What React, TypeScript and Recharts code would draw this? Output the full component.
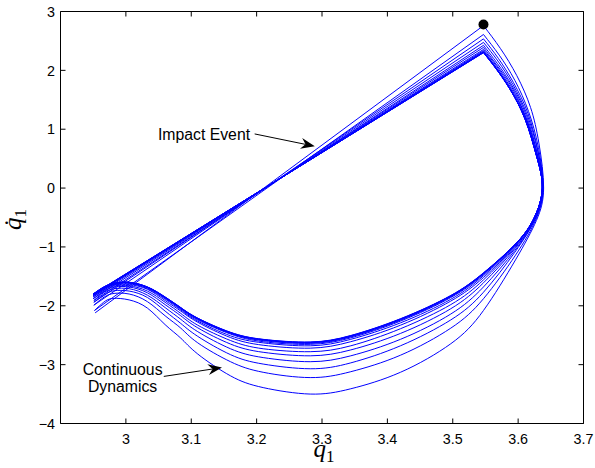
import React from 'react';
import { ComposedChart, Line, XAxis, YAxis, ReferenceDot, ReferenceLine, ReferenceArea } from 'recharts';

type Pt = [number, number];

// Phase-portrait cycles [q1, dq1] (continuous dynamics, corner -> end)
const cycle01: Pt[] = [[3.547,2.76],[3.573,2.37],[3.598,1.91],[3.619,1.37],[3.632,0.75],[3.639,0],[3.628,-0.55],[3.596,-1.22],[3.547,-2.08],[3.497,-2.645],[3.42,-3.13],[3.344,-3.41],[3.282,-3.5],[3.21,-3.39],[3.16,-3.19],[3.11,-2.82],[3.084,-2.55],[3.06,-2.32],[3.033,-2.04],[3.005,-1.9],[2.98,-1.875],[2.966,-1.94],[2.952,-2.08]];
const cycle02: Pt[] = [[3.547,2.61],[3.571,2.26],[3.595,1.83],[3.616,1.3],[3.631,0.69],[3.638,0],[3.627,-0.54],[3.596,-1.14],[3.547,-1.88],[3.497,-2.38],[3.42,-2.84],[3.344,-3.12],[3.282,-3.22],[3.21,-3.13],[3.16,-2.95],[3.11,-2.63],[3.084,-2.38],[3.06,-2.17],[3.033,-1.93],[3.005,-1.8],[2.982,-1.79],[2.967,-1.85],[2.951,-1.99]];
const cycle03: Pt[] = [[3.547,2.535],[3.57,2.2],[3.593,1.79],[3.615,1.27],[3.63,0.65],[3.638,0],[3.626,-0.53],[3.595,-1.09],[3.547,-1.77],[3.497,-2.24],[3.42,-2.68],[3.344,-2.97],[3.282,-3.07],[3.21,-2.99],[3.16,-2.83],[3.11,-2.52],[3.084,-2.3],[3.06,-2.09],[3.033,-1.86],[3.005,-1.75],[2.982,-1.745],[2.967,-1.81],[2.951,-1.94]];
const cycle04: Pt[] = [[3.547,2.475],[3.569,2.16],[3.592,1.76],[3.614,1.24],[3.63,0.63],[3.638,0],[3.626,-0.53],[3.595,-1.06],[3.547,-1.68],[3.497,-2.14],[3.42,-2.57],[3.344,-2.85],[3.282,-2.95],[3.21,-2.88],[3.16,-2.73],[3.11,-2.44],[3.084,-2.23],[3.06,-2.03],[3.033,-1.82],[3.005,-1.71],[2.983,-1.71],[2.967,-1.77],[2.951,-1.91]];
const cycle05: Pt[] = [[3.547,2.425],[3.568,2.12],[3.591,1.735],[3.613,1.22],[3.629,0.6],[3.637,0],[3.625,-0.53],[3.595,-1.03],[3.547,-1.61],[3.497,-2.05],[3.42,-2.47],[3.344,-2.75],[3.282,-2.85],[3.21,-2.79],[3.16,-2.65],[3.11,-2.375],[3.084,-2.17],[3.06,-1.98],[3.033,-1.78],[3.005,-1.68],[2.984,-1.68],[2.968,-1.74],[2.95,-1.88]];
const cycle06: Pt[] = [[3.547,2.39],[3.567,2.095],[3.59,1.72],[3.612,1.2],[3.629,0.59],[3.637,0],[3.625,-0.53],[3.595,-1.01],[3.547,-1.56],[3.497,-1.98],[3.42,-2.39],[3.344,-2.68],[3.282,-2.78],[3.21,-2.73],[3.16,-2.59],[3.11,-2.33],[3.084,-2.13],[3.06,-1.94],[3.033,-1.75],[3.005,-1.66],[2.984,-1.66],[2.968,-1.72],[2.95,-1.85]];
const cycle07: Pt[] = [[3.547,2.355],[3.567,2.07],[3.589,1.7],[3.612,1.185],[3.628,0.57],[3.637,0],[3.624,-0.52],[3.595,-0.99],[3.547,-1.52],[3.497,-1.92],[3.42,-2.33],[3.344,-2.61],[3.282,-2.72],[3.21,-2.67],[3.16,-2.54],[3.11,-2.28],[3.084,-2.09],[3.06,-1.91],[3.033,-1.72],[3.005,-1.64],[2.985,-1.64],[2.968,-1.7],[2.95,-1.83]];
const cycle08: Pt[] = [[3.547,2.335],[3.566,2.055],[3.588,1.69],[3.611,1.175],[3.628,0.565],[3.637,0],[3.624,-0.522],[3.595,-0.98],[3.547,-1.49],[3.497,-1.89],[3.42,-2.29],[3.344,-2.57],[3.282,-2.68],[3.21,-2.63],[3.16,-2.51],[3.11,-2.26],[3.084,-2.07],[3.06,-1.885],[3.033,-1.71],[3.005,-1.62],[2.985,-1.63],[2.968,-1.69],[2.95,-1.82]];
const cycle09: Pt[] = [[3.547,2.32],[3.566,2.045],[3.588,1.68],[3.611,1.17],[3.628,0.56],[3.637,0],[3.624,-0.52],[3.595,-0.97],[3.547,-1.47],[3.497,-1.86],[3.42,-2.26],[3.344,-2.545],[3.282,-2.655],[3.21,-2.61],[3.16,-2.48],[3.11,-2.24],[3.084,-2.055],[3.06,-1.87],[3.033,-1.695],[3.005,-1.61],[2.985,-1.62],[2.968,-1.68],[2.95,-1.81]];
const cycle10: Pt[] = [[3.547,2.312],[3.566,2.039],[3.588,1.676],[3.611,1.166],[3.628,0.555],[3.637,0],[3.624,-0.52],[3.595,-0.967],[3.547,-1.457],[3.497,-1.847],[3.42,-2.245],[3.344,-2.529],[3.282,-2.639],[3.21,-2.592],[3.16,-2.47],[3.11,-2.227],[3.084,-2.044],[3.06,-1.863],[3.033,-1.69],[3.005,-1.608],[2.985,-1.617],[2.968,-1.677],[2.95,-1.808]];
const cycle11: Pt[] = [[3.547,2.307],[3.566,2.035],[3.588,1.674],[3.611,1.163],[3.628,0.553],[3.637,0],[3.624,-0.52],[3.595,-0.964],[3.547,-1.45],[3.497,-1.838],[3.42,-2.235],[3.344,-2.52],[3.282,-2.629],[3.21,-2.583],[3.16,-2.462],[3.11,-2.22],[3.084,-2.038],[3.06,-1.858],[3.033,-1.686],[3.005,-1.605],[2.985,-1.614],[2.968,-1.674],[2.95,-1.805]];
const cycle12: Pt[] = [[3.547,2.304],[3.566,2.033],[3.588,1.672],[3.611,1.162],[3.628,0.552],[3.637,0],[3.624,-0.52],[3.595,-0.962],[3.547,-1.446],[3.497,-1.832],[3.42,-2.228],[3.344,-2.513],[3.282,-2.623],[3.21,-2.577],[3.16,-2.457],[3.11,-2.215],[3.084,-2.035],[3.06,-1.854],[3.033,-1.683],[3.005,-1.603],[2.985,-1.612],[2.968,-1.672],[2.95,-1.803]];
const cycle13: Pt[] = [[3.547,2.302],[3.566,2.031],[3.588,1.671],[3.611,1.161],[3.628,0.551],[3.637,0],[3.624,-0.52],[3.595,-0.961],[3.547,-1.443],[3.497,-1.828],[3.42,-2.224],[3.344,-2.509],[3.282,-2.619],[3.21,-2.573],[3.16,-2.453],[3.11,-2.212],[3.084,-2.032],[3.06,-1.852],[3.033,-1.681],[3.005,-1.601],[2.985,-1.611],[2.968,-1.671],[2.95,-1.801]];
const cycle14: Pt[] = [[3.547,2.3],[3.566,2.03],[3.588,1.67],[3.611,1.16],[3.628,0.55],[3.637,0],[3.624,-0.52],[3.595,-0.96],[3.547,-1.44],[3.497,-1.825],[3.42,-2.22],[3.344,-2.505],[3.282,-2.615],[3.21,-2.57],[3.16,-2.45],[3.11,-2.21],[3.084,-2.03],[3.06,-1.85],[3.033,-1.68],[3.005,-1.6],[2.985,-1.61],[2.968,-1.67],[2.95,-1.8]];

const cycles: Pt[][] = [cycle01, cycle02, cycle03, cycle04, cycle05, cycle06, cycle07, cycle08, cycle09, cycle10, cycle11, cycle12, cycle13, cycle14];

const preImpactState: Pt = [2.953, -2.12];
const initialState: Pt = [3.547, 2.78];

const xTicks = [3, 3.1, 3.2, 3.3, 3.4, 3.5, 3.6, 3.7];
const yTicks = [-4, -3, -2, -1, 0, 1, 2, 3];
const xDomain: [number, number] = [2.9, 3.7];
const yDomain: [number, number] = [-4, 3];

const impactText = 'Impact Event';
const impactTextAt: Pt = [3.19, 0.82];
const impactArrow: [Pt, Pt] = [[3.197, 0.92], [3.289, 0.71]];
const dynamicsText = ['Continuous', 'Dynamics'];
const dynamicsTextAt: Pt = [2.995, -3.17];
const dynamicsArrow: [Pt, Pt] = [[3.058, -3.2], [3.147, -3.05]];

const BLUE = '#0000ff';
const SANS = "'Liberation Sans', Arial, Helvetica, sans-serif";
const SERIF = "'Liberation Serif', 'Times New Roman', serif";

// plot frame in pixels (layout)
const FRAME = { left: 60.5, right: 583.5, top: 11.5, bottom: 423.5 };
const TICK_LEN = 5;

const toRows = (pts: Pt[]) => pts.map(([x, y]) => ({ x, y }));

const impactSegments: Pt[][] = cycles.map((c, i) => [
  i === 0 ? preImpactState : cycles[i - 1][cycles[i - 1].length - 1],
  c[0],
]);

const ArrowShape = (p: any) => {
  const { x1, y1, x2, y2 } = p;
  const dx = x2 - x1;
  const dy = y2 - y1;
  const len = Math.hypot(dx, dy) || 1;
  const ux = dx / len, uy = dy / len, nx = -uy, ny = ux;
  const L = 14, W = 5.5, N = 9.5;
  const bx = x2 - ux * L, by = y2 - uy * L;
  const mx = x2 - ux * N, my = y2 - uy * N;
  return (
    <g>
      <line x1={x1} y1={y1} x2={mx} y2={my} stroke="#000" strokeWidth={1} />
      <polygon
        points={`${x2},${y2} ${bx + nx * W},${by + ny * W} ${mx},${my} ${bx - nx * W},${by - ny * W}`}
        fill="#000"
      />
    </g>
  );
};

const BottomTick = (p: any) => {
  const { x, payload } = p;
  return (
    <g>
      <line x1={x} y1={FRAME.bottom} x2={x} y2={FRAME.bottom - TICK_LEN} stroke="#000" strokeWidth={1} />
      <line x1={x} y1={FRAME.top} x2={x} y2={FRAME.top + TICK_LEN} stroke="#000" strokeWidth={1} />
      <text x={x} y={FRAME.bottom + 20} textAnchor="middle" fontFamily={SANS} fontSize={14.3} fill="#000">
        {String(payload.value)}
      </text>
    </g>
  );
};

const LeftTick = (p: any) => {
  const { y, payload } = p;
  return (
    <g>
      <line x1={FRAME.left} y1={y} x2={FRAME.left + TICK_LEN} y2={y} stroke="#000" strokeWidth={1} />
      <line x1={FRAME.right} y1={y} x2={FRAME.right - TICK_LEN} y2={y} stroke="#000" strokeWidth={1} />
      <text x={FRAME.left - 5.5} y={y} dy="0.36em" textAnchor="end" fontFamily={SANS} fontSize={14.3} fill="#000">
        {String(payload.value).replace('-', '\u2212')}
      </text>
    </g>
  );
};

const XLabel = (props: any) => {
  const vb = props.viewBox || { x: 60.5, y: 423.5, width: 523, height: 44.5 };
  const cx = vb.x + vb.width / 2 + 2;
  const y = vb.y + 33.5;
  return (
    <text x={cx} y={y} textAnchor="middle" fill="#000" fontFamily={SERIF}>
      <tspan fontStyle="italic" fontSize={25}>q</tspan>
      <tspan fontSize={17} dy={5}>1</tspan>
    </text>
  );
};

const YLabel = (props: any) => {
  const vb = props.viewBox || { x: 0, y: 11.5, width: 60.5, height: 412 };
  const cy = vb.y + vb.height / 2 + 2;
  const bx = 21;
  return (
    <text transform={`rotate(-90 ${bx} ${cy})`} x={bx} y={cy} textAnchor="middle" fill="#000" fontFamily={SERIF}>
      <tspan fontStyle="italic" fontSize={25}>{'q\u0307'}</tspan>
      <tspan fontSize={17} dy={5}>1</tspan>
    </text>
  );
};

export default function App() {
  return (
    <div style={{ position: 'absolute', left: 0, top: 0, width: 595, height: 468, background: '#fff' }}>
      <ComposedChart width={595} height={468} margin={{ top: 11.5, right: 11.5, bottom: 0, left: 0 }}>
        <XAxis
          dataKey="x"
          type="number"
          domain={xDomain}
          ticks={xTicks}
          interval={0}
          allowDataOverflow
          height={44.5}
          tickSize={0}
          tickMargin={0}
          tick={<BottomTick />}
          tickLine={false}
          axisLine={false}
          label={<XLabel />}
        />
        <YAxis
          type="number"
          domain={yDomain}
          ticks={yTicks}
          interval={0}
          allowDataOverflow
          width={60.5}
          tickSize={0}
          tickMargin={0}
          tick={<LeftTick />}
          tickLine={false}
          axisLine={false}
          label={<YLabel />}
        />
        {impactSegments.map((seg, i) => (
          <Line
            key={`imp${i}`}
            data={toRows(seg)}
            dataKey="y"
            type="linear"
            stroke={BLUE}
            strokeWidth={1}
            dot={false}
            activeDot={false}
            isAnimationActive={false}
          />
        ))}
        {cycles.map((c, i) => (
          <Line
            key={`cyc${i}`}
            data={toRows(c)}
            dataKey="y"
            type="natural"
            stroke={BLUE}
            strokeWidth={1}
            dot={false}
            activeDot={false}
            isAnimationActive={false}
          />
        ))}
        <ReferenceArea
          x1={xDomain[0]}
          x2={xDomain[1]}
          y1={yDomain[0]}
          y2={yDomain[1]}
          fill="none"
          fillOpacity={0}
          stroke="#000"
          strokeWidth={1}
          ifOverflow="visible"
        />
        <ReferenceDot x={initialState[0]} y={initialState[1]} r={5} fill="#000" stroke="none" />
        <ReferenceLine
          segment={[{ x: impactArrow[0][0], y: impactArrow[0][1] }, { x: impactArrow[1][0], y: impactArrow[1][1] }]}
          shape={ArrowShape}
        />
        <ReferenceLine
          segment={[{ x: dynamicsArrow[0][0], y: dynamicsArrow[0][1] }, { x: dynamicsArrow[1][0], y: dynamicsArrow[1][1] }]}
          shape={ArrowShape}
        />
        <ReferenceDot
          x={impactTextAt[0]}
          y={impactTextAt[1]}
          r={1}
          shape={(p: any) => (
            <text x={p.cx} y={p.cy} textAnchor="end" fontFamily={SANS} fontSize={15.8} fill="#000">
              {impactText}
            </text>
          )}
        />
        <ReferenceDot
          x={dynamicsTextAt[0]}
          y={dynamicsTextAt[1]}
          r={1}
          shape={(p: any) => (
            <text x={p.cx} y={p.cy} textAnchor="middle" fontFamily={SANS} fontSize={15.8} fill="#000">
              {dynamicsText.map((t, i) => (
                <tspan key={i} x={p.cx} dy={i === 0 ? 0 : 17.4}>{t}</tspan>
              ))}
            </text>
          )}
        />
      </ComposedChart>
    </div>
  );
}
